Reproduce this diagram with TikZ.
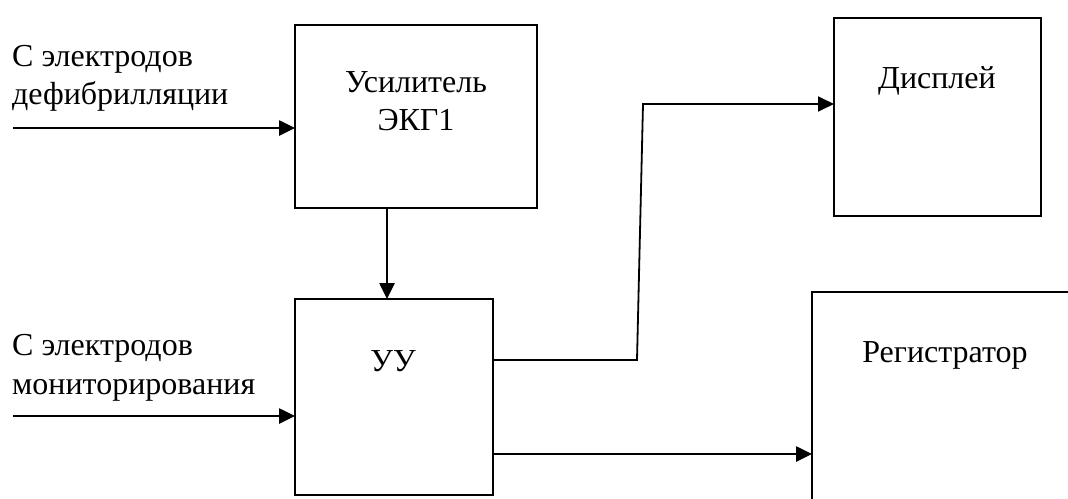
\documentclass[tikz,border=0pt]{standalone}
\usepackage{fontspec}
\setmainfont{Liberation Serif}
\usetikzlibrary{arrows.meta}
\begin{document}
\begin{tikzpicture}[x=1pt,y=-1pt,
  block/.style={draw=black,line width=2.6pt,fill=none,inner sep=0pt,outer sep=0pt,anchor=north west},
  txt/.style={font=\fontsize{32}{38}\selectfont,inner sep=0pt,anchor=base},
  lbl/.style={txt,anchor=base west},
  arr/.style={line width=2.6pt,-{Triangle[length=16pt,width=15pt]}},
  thinarr/.style={line width=1.8pt,line join=miter,-{Triangle[length=16pt,width=15pt]}}]
\useasboundingbox (0,0) rectangle (1068,498);
\clip (0,0) rectangle (1068,498);
\fill[white] (0,0) rectangle (1068,498);

% blocks
\node[block,minimum width=242pt,minimum height=183pt] (amp) at (295,25) {};
\node[block,minimum width=198pt,minimum height=196pt] (uu) at (295,299) {};
\node[block,minimum width=207pt,minimum height=198pt] (disp) at (834,18) {};
\node[block,minimum width=300pt,minimum height=250pt] (reg) at (812,292) {};

% block captions
\node[txt] (ampA) at (416,92) {Усилитель};
\node[txt] (ampB) at (416,130) {ЭКГ1};
\node[txt] (uuT) at (393,371) {УУ};
\node[txt] (dispT) at (937,88) {Дисплей};
\node[txt] (regT) at (945,362) {Регистратор};

% input captions
\node[lbl] (inAa) at (12,66) {С электродов};
\node[lbl] (inAb) at (12,104) {дефибрилляции};
\node[lbl] (inBa) at (12,355) {С электродов};
\node[lbl] (inBb) at (12,394) {мониторирования};

% connectors
\coordinate (inA) at (13,128);
\coordinate (inB) at (13,416);
\coordinate (down) at (387,0);
\coordinate (bendA) at (637,360);
\coordinate (bendB) at (643,104);
\coordinate (low) at (0,454);

\draw[arr] (inA) -- (inA -| amp.west);
\draw[arr] (inB) -- (inB -| uu.west);
\draw[arr] (down |- amp.south) -- (down |- uu.north);
\draw[thinarr] (uu.east |- bendA) -- (bendA) -- (bendB) -- (bendB -| disp.west);
\draw[arr] (low -| uu.east) -- (low -| reg.west);
\end{tikzpicture}
\end{document}
